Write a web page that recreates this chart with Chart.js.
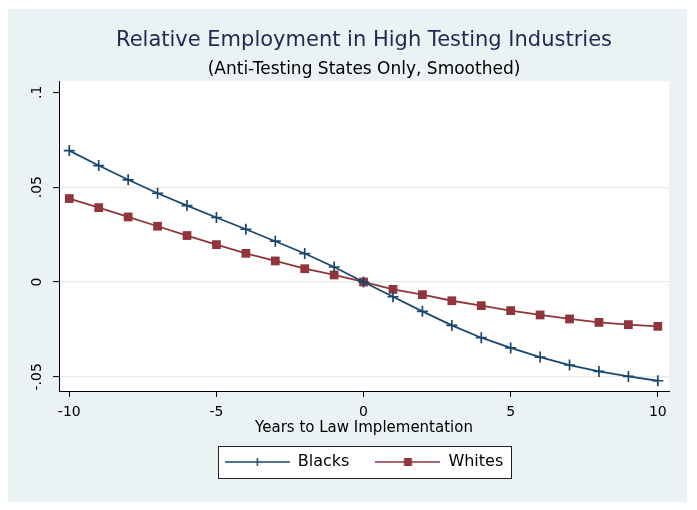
<!DOCTYPE html>
<html>
<head>
<meta charset="utf-8">
<script src="https://cdn.jsdelivr.net/npm/chart.js@4/dist/chart.umd.min.js"></script>
<style>
html,body{margin:0;padding:0;background:#ffffff;}
#wrap{width:697px;height:510px;}
</style>
</head>
<body>
<div id="wrap"><canvas id="c" width="697" height="510"></canvas></div>
<script>
// ---- data ----
const years = [-10,-9,-8,-7,-6,-5,-4,-3,-2,-1,0,1,2,3,4,5,6,7,8,9,10];
const blacks = [0.0693,0.0614,0.0539,0.0468,0.0403,0.0340,0.0278,0.0215,0.0150,0.0079,0,
                -0.0078,-0.0155,-0.0229,-0.0294,-0.0348,-0.0396,-0.0438,-0.0472,-0.0498,-0.0521];
const whites = [0.0440,0.0392,0.0343,0.0294,0.0245,0.0197,0.0151,0.0111,0.0070,0.0037,0,
                -0.0039,-0.0067,-0.0099,-0.0125,-0.0151,-0.0174,-0.0195,-0.0213,-0.0225,-0.0234];
const seriesNames = ['Blacks','Whites'];
const xTickValues = [-10,-5,0,5,10];
const yTickValues = [-0.05,0,0.05,0.1];
const titleText = 'Relative Employment in High Testing Industries';
const subtitleText = '(Anti-Testing States Only, Smoothed)';
const xTitleText = 'Years to Law Implementation';

const FONT = "'DejaVu Sans', 'Liberation Sans', sans-serif";
const NAVY = '#1a476f';
const MAROON = '#90353b';
const PANEL = '#eaf2f3';
const GRID = '#e3ebee';

function legendSample(color, marker) {
  const c = document.createElement('canvas');
  c.width = 65; c.height = 14;
  const g = c.getContext('2d');
  g.strokeStyle = color; g.lineWidth = 1.5;
  g.beginPath(); g.moveTo(0, 7); g.lineTo(65, 7); g.stroke();
  if (marker === 'cross') {
    g.beginPath(); g.moveTo(32.5, 3); g.lineTo(32.5, 11); g.stroke();
  } else {
    g.fillStyle = color; g.fillRect(28.5, 3, 8, 8);
  }
  return c;
}
const legendImgs = [legendSample(NAVY, 'cross'), legendSample(MAROON, 'rect')];

function legendFrame(chart) {
  const hb = chart.legend && chart.legend.legendHitBoxes;
  if (!hb || !hb.length) return null;
  const first = hb[0], last = hb[hb.length - 1];
  const left = Math.round(first.left - 7);
  const right = Math.round(last.left + last.width + 8);
  const top = Math.round(first.top + first.height / 2 - 16);
  return { left, top, width: right - left, height: 32 };
}

const bgPlugin = {
  id: 'bg',
  beforeDraw(chart) {
    const ctx = chart.ctx, a = chart.chartArea;
    ctx.save();
    ctx.fillStyle = '#ffffff';
    ctx.fillRect(0, 0, chart.width, chart.height);
    ctx.fillStyle = PANEL;
    ctx.fillRect(8, 9, 679, 493);
    ctx.fillStyle = '#ffffff';
    ctx.fillRect(a.left, a.top, a.right - a.left, a.bottom - a.top);
    const f = legendFrame(chart);
    if (f) {
      ctx.fillRect(f.left, f.top, f.width, f.height);
    }
    ctx.restore();
  },
  afterDraw(chart) {
    const f = legendFrame(chart);
    if (!f) return;
    const ctx = chart.ctx;
    ctx.save();
    ctx.strokeStyle = '#222222';
    ctx.lineWidth = 1;
    ctx.strokeRect(f.left + 0.5, f.top + 0.5, f.width, f.height);
    ctx.restore();
  }
};

new Chart(document.getElementById('c'), {
  type: 'line',
  data: {
    labels: years,
    datasets: [
      {
        label: seriesNames[0],
        data: years.map((x, i) => ({x: x, y: blacks[i]})),
        borderColor: NAVY, backgroundColor: NAVY,
        borderWidth: 1.8, tension: 0,
        pointStyle: 'cross', pointRadius: 5.5, pointBorderWidth: 1.7,
        pointBorderColor: NAVY, pointBackgroundColor: NAVY,
        order: 1
      },
      {
        label: seriesNames[1],
        data: years.map((x, i) => ({x: x, y: whites[i]})),
        borderColor: MAROON, backgroundColor: MAROON,
        borderWidth: 1.8, tension: 0,
        pointStyle: 'rect', pointRadius: 6.2, pointBorderWidth: 0,
        pointBorderColor: MAROON, pointBackgroundColor: MAROON,
        order: 2
      }
    ]
  },
  options: {
    responsive: false,
    devicePixelRatio: 1,
    animation: false,
    events: [],
    layout: { padding: { top: 10, right: 28, bottom: 30, left: 9 } },
    scales: {
      x: {
        type: 'linear',
        min: -10.35, max: 10.38,
        afterBuildTicks: s => { s.ticks = xTickValues.map(v => ({value: v})); },
        afterFit: s => { s.height = 37; },
        border: { display: true, color: '#000000', width: 1 },
        grid: { drawOnChartArea: false, drawTicks: true, tickLength: 6, tickColor: '#000000', tickWidth: 1 },
        ticks: { color: '#000000', font: { family: FONT, size: 14 }, padding: 6.6, maxRotation: 0,
                 callback: v => String(v) },
        title: { display: true, text: xTitleText, color: '#000000',
                 font: { family: FONT, size: 15 }, padding: { top: 0, bottom: -9.5 } }
      },
      y: {
        type: 'linear',
        min: -0.0575, max: 0.106,
        afterBuildTicks: s => { s.ticks = yTickValues.map(v => ({value: v})); },
        afterFit: s => { s.width = 50; },
        border: { display: true, color: '#000000', width: 1 },
        grid: {
          drawTicks: true, tickLength: 6, tickColor: '#000000', tickWidth: 1, lineWidth: 1.2,
          color: c => (c.tick && Math.abs(c.tick.value - 0.1) < 1e-9) ? 'rgba(0,0,0,0)' : GRID
        },
        ticks: {
          color: '#000000', font: { family: FONT, size: 14 }, padding: 2,
          minRotation: 90, maxRotation: 90, crossAlign: 'center',
          callback: v => v === 0 ? '0' : (v < 0 ? '-' : '') + String(Math.abs(v)).replace(/^0/, '')
        }
      }
    },
    plugins: {
      title: {
        display: true, fullSize: false, text: titleText, color: '#1c2a52',
        font: { family: FONT, size: 21, weight: 'normal' },
        padding: { top: 18.4, bottom: 2 }
      },
      subtitle: {
        display: true, fullSize: false, text: subtitleText, color: '#000000',
        font: { family: FONT, size: 17, weight: 'normal' },
        padding: { top: 4.2, bottom: 0.8 }
      },
      legend: {
        display: true, position: 'bottom', fullSize: false,
        labels: {
          usePointStyle: true, pointStyleWidth: 65, padding: 26,
          color: '#000000', font: { family: FONT, size: 16 },
          generateLabels: chart => {
            const items = Chart.defaults.plugins.legend.labels.generateLabels(chart);
            return items.map((it, i) => Object.assign(it, { pointStyle: legendImgs[i], fontColor: '#000000' }));
          }
        }
      },
      tooltip: { enabled: false }
    }
  },
  plugins: [bgPlugin]
});
</script>
</body>
</html>
